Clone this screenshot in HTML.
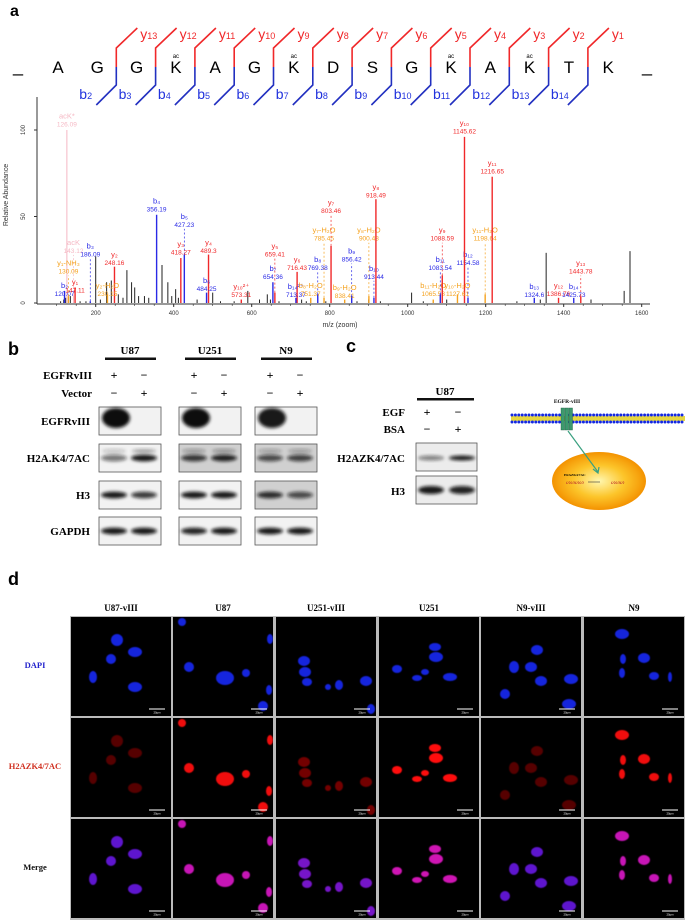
<!DOCTYPE html>
<html><head><meta charset="utf-8">
<style>
html,body{margin:0;padding:0;background:#fff;}
#fig{position:absolute;left:0;top:0;width:685px;height:920px;}
svg text{font-family:"Liberation Sans","DejaVu Sans",sans-serif;}
.serif{font-family:"Liberation Serif","DejaVu Serif",serif!important;font-weight:bold;}
</style></head>
<body>
<svg id="fig" xmlns="http://www.w3.org/2000/svg" width="685" height="920" viewBox="0 0 685 920">
<defs>
<filter id="blur1" x="-50%" y="-50%" width="200%" height="200%"><feGaussianBlur stdDeviation="1.6"/></filter>
<filter id="blur2" x="-50%" y="-50%" width="200%" height="200%"><feGaussianBlur stdDeviation="0.4"/></filter>
<radialGradient id="nucGrad" cx="50%" cy="50%" r="50%">
<stop offset="0" stop-color="#fff7b0"/><stop offset="0.55" stop-color="#fcc52a"/><stop offset="0.85" stop-color="#f7a40f"/><stop offset="1" stop-color="#f39200"/>
</radialGradient>
</defs>
<text x="10" y="16" font-size="16" font-weight="bold">a</text>
<text x="8" y="355" font-size="18" font-weight="bold">b</text>
<text x="346" y="352" font-size="18" font-weight="bold">c</text>
<text x="8" y="585" font-size="18" font-weight="bold">d</text>
<g id="seq"></g>
<g id="spec"></g>
<g id="wb"></g>
<g id="wbc"></g>
<g id="diag"></g>
<g id="micro"></g>
</svg>
<script>
// ---------- data: peptide ----------
const seqLetters = ["A","G","G","K","A","G","K","D","S","G","K","A","K","T","K"];
const seqAc = [0,0,0,1,0,0,1,0,0,0,1,0,1,0,0];
// ---------- data: spectrum ----------
const peakMz  = [126.09,143.12,120.07,130.09,147.11,186.09,248.16,230.15,356.19,427.23,418.27,489.3,484.25,573.31,654.36,659.41,716.43,713.37,769.38,785.45,751.37,803.46,856.42,900.48,913.44,838.41,918.49,1065.53,1083.54,1088.59,1154.58,1145.62,1198.64,1127.61,1216.65,1324.60,1386.76,1425.73,1443.78];
const peakInt = [100,4,7,4,9,1,21,5,51,28,26,28,6,2,12,6,18,3,5,3,3,33,4,4,3,2,60,2,5,16,3,96,5,5,73,3,3,3,4];
const peakType= ["p","p","b","o","r","b","r","o","b","b","r","r","b","r","b","r","r","b","b","o","o","r","b","o","b","o","r","o","b","r","b","r","o","o","r","b","r","b","r"];
const peakName= ["acK*","acK","b₂","y₁-NH₃","y₁","b₃","y₂","y₂-H₂O","b₄","b₅","y₃","y₄","b₆","y₁₀²⁺","b₇","y₅","y₆","b₁₄²⁺","b₈","y₇-H₂O","b₈-H₂O","y₇","b₉","y₈-H₂O","b₁₀","b₉-H₂O","y₈","b₁₁-H₂O","b₁₁","y₉","b₁₂","y₁₀","y₁₁-H₂O","y₁₀-H₂O","y₁₁","b₁₃","y₁₂","b₁₄","y₁₃"];
const labelLevel=[102,29,4,17,6,27,22,4,53,44,28,29,7,3.5,14,27,19,3.5,19,36,4,52,24,36,14,3,61,4,19,36,22,98,36,4,75,3.5,4,3.5,17];
const otherMz  = [110,118,123,135,160,175,200,212,228,240,258,270,280,292,300,310,325,336,370,385,395,405,412,460,500,520,555,590,620,640,648,670,728,740,790,870,900,930,1010,1040,1100,1280,1340,1355,1470,1555,1570];
const otherInt = [1,2,3,4,1,1,27,2,12,13,5,3,19,12,9,4,4,3,22,12,4,8,3,2,6,1,1,7,2,5,2,1,2,1,1,1,2,1,6,1,2,1,2,29,2,7,30];
const xTicks = [200,400,600,800,1000,1200,1400,1600];
const yTicks = [0,50,100];
// ---------- data: western blots ----------
const cellLines = ["U87","U251","N9"];
const blotRows = ["EGFRvIII","H2A.K4/7AC","H3","GAPDH"];
const bandEGFR = [[1,0],[1,0],[0.95,0]];
const bandH2A  = [[0.55,0.95],[0.8,0.9],[0.7,0.75]];
const bandH3   = [[0.95,0.8],[0.95,0.95],[0.85,0.7]];
const bandGAPDH= [[0.95,0.95],[0.9,0.95],[0.95,0.95]];
const bandC_H2AZ=[0.5,0.95];
const bandC_H3 = [0.95,0.9];
// ---------- data: microscopy ----------
const colNames = ["U87-vIII","U87","U251-vIII","U251","N9-vIII","N9"];
const redLevel = [0.3,0.95,0.45,1.0,0.3,0.95];
const nuclei = [
 [[46,23,6,6],[40,42,5,5],[64,35,7,5],[22,60,4,6],[64,70,7,5]],
 [[9,5,4,4],[97,22,3,5],[16,50,5,5],[52,61,9,7],[73,56,4,4],[96,73,3,5],[90,89,5,5]],
 [[28,44,6,5],[29,55,6,5],[31,65,5,4],[63,68,4,5],[90,64,6,5],[95,92,4,5],[52,70,3,3]],
 [[56,30,6,4],[57,40,7,5],[18,52,5,4],[38,61,5,3],[46,55,4,3],[71,60,7,4]],
 [[56,33,6,5],[33,50,5,6],[50,50,6,5],[60,64,6,5],[90,62,7,5],[24,77,5,5],[88,87,7,5]],
 [[38,17,7,5],[39,42,3,5],[60,41,6,5],[38,56,3,5],[70,59,5,4],[86,60,2,5]]
];

const NS="http://www.w3.org/2000/svg";
function mk(parent, tag, attrs, txt){const e=document.createElementNS(NS,tag);for(const k in attrs)e.setAttribute(k,attrs[k]);if(txt!==undefined)e.textContent=txt;parent.appendChild(e);return e;}

// ---------- peptide ----------
const seq=document.getElementById('seq');
const lx=i=>58+i*39.3;
let d1=mk(seq,'text',{x:18,y:72,'font-size':18,'text-anchor':'middle'},'_');


let d2=mk(seq,'text',{x:647,y:72,'font-size':18,'text-anchor':'middle'},'_');


seqLetters.forEach((L,i)=>{
  const t=mk(seq,'text',{x:lx(i),y:73,'font-size':17,'text-anchor':'middle'},L);
  
  
  if(seqAc[i]){const a=mk(seq,'text',{x:lx(i),y:58,'font-size':6,'text-anchor':'middle'},'ac');
    
    }
});
for(let k=2;k<=14;k++){
  const sx=lx(k-1)+19;
  const r=mk(seq,'path',{d:`M${sx},67 V48 L${sx+21},28`,stroke:'#f0282a','stroke-width':1.6,fill:'none'});
  
  
  const b=mk(seq,'path',{d:`M${sx},67 V85 L${sx-20},105`,stroke:'#2230c0','stroke-width':1.6,fill:'none'});
  
  
  const yt=mk(seq,'text',{x:sx+24,y:39,'font-size':14,fill:'#f0282a'});
  yt.innerHTML='y<tspan font-size="9">'+(15-k)+'</tspan>';
  
  
  const bt=mk(seq,'text',{x:sx-37,y:99,'font-size':14,fill:'#2233dd'});
  bt.innerHTML='b<tspan font-size="9">'+k+'</tspan>';
  
  
}

// ---------- spectrum ----------
const sp=document.getElementById('spec');
const xs=m=>95.7+(m-200)*0.39;
const ys=v=>303-v*1.73;
const colors={r:'#f0282a',b:'#2a2ae6',o:'#f5a21f',p:'#f5b8c4',k:'#222'};
let ax=mk(sp,'path',{d:`M37,97 V304 M37,304 H650`,stroke:'#333','stroke-width':1,fill:'none'});


xTicks.forEach(t=>{
  const l=mk(sp,'line',{x1:xs(t),x2:xs(t),y1:304,y2:307,stroke:'#333'});
  
  
  const tx=mk(sp,'text',{x:xs(t),y:315,'font-size':6,'text-anchor':'middle',fill:'#333'},t);
  
  
});
for(let m=100;m<=1600;m+=50){const l=mk(sp,'line',{x1:xs(m),x2:xs(m),y1:304,y2:306,stroke:'#333','stroke-width':0.6});
  
  }
yTicks.forEach(t=>{
  const l=mk(sp,'line',{x1:34,x2:37,y1:ys(t),y2:ys(t),stroke:'#333'});
  
  
  const tx=mk(sp,'text',{x:25,y:ys(t),'font-size':6,'text-anchor':'middle',fill:'#333',transform:`rotate(-90 25 ${ys(t)})`},t);
  
  
});
let yt=mk(sp,'text',{x:8,y:195,'font-size':7,'text-anchor':'middle',fill:'#333',transform:'rotate(-90 8 195)'},'Relative Abundance');


let xt=mk(sp,'text',{x:340,y:327,'font-size':7,'text-anchor':'middle',fill:'#333'},'m/z (zoom)');


otherMz.forEach((m,i)=>{
  const l=mk(sp,'line',{x1:xs(m),x2:xs(m),y1:303,y2:ys(otherInt[i]),stroke:'#222','stroke-width':1});
  
  
});
peakMz.forEach((m,i)=>{
  const c=colors[peakType[i]];
  const l=mk(sp,'line',{x1:xs(m),x2:xs(m),y1:303,y2:ys(peakInt[i]),stroke:c,'stroke-width':peakType[i]=='p'?1:1.4});
  
  
  const ly=ys(labelLevel[i]);
  if(ly<ys(peakInt[i])-14){
    const dl=mk(sp,'line',{x1:xs(m),x2:xs(m),y1:ys(peakInt[i]),y2:ly+2,stroke:c,'stroke-width':0.7,'stroke-dasharray':'2,2'});
    
    
  }
  const tc=peakType[i]=='o'?'#f5a21f':c;
  const n=mk(sp,'text',{x:xs(m),y:ly-8,'font-size':7.5,'text-anchor':'middle',fill:tc},peakName[i]);
  
  
  const ms=mk(sp,'text',{x:xs(m),y:ly,'font-size':6.5,'text-anchor':'middle',fill:tc,'font-family':'Liberation Serif'},m.toFixed(2).replace(/0$/,'').replace(/\.$/,''));
  
  
});

// ---------- western blot b ----------
const wb=document.getElementById('wb');
const grpX=[99,179,255];
const rowY=[407,444,481,517];
const rowData=[bandEGFR,bandH2A,bandH3,bandGAPDH];
cellLines.forEach((c,g)=>{
  const cx=grpX[g]+31;
  const h=mk(wb,'text',{x:cx,y:354,'font-size':11,'text-anchor':'middle',class:'serif'},c);
  
  
  const bar=mk(wb,'rect',{x:cx-25,y:357.5,width:51,height:2.5,fill:'#111'});
  
  
  [['+','−'],['−','+']].forEach((pm,r)=>{pm.forEach((s,j)=>{
    const t=mk(wb,'text',{x:grpX[g]+15+j*30,y:379+r*18,'font-size':12,'text-anchor':'middle',class:'serif'},s);
    
    });});
  rowData.forEach((rd,r)=>{
    const bx=grpX[g], by=rowY[r];
    const bg=(r==1&&g>0)||(r==2&&g==2)?'#d0d0d0':'#f2f2f2';
    const box=mk(wb,'rect',{x:bx,y:by,width:62,height:28,fill:bg,stroke:'#555','stroke-width':0.8});
    
    
    rd[g].forEach((v,j)=>{
      if(v<=0)return;
      const big=r==0;
      const e=mk(wb,'ellipse',{cx:bx+(big?17:15+j*30),cy:by+(big?11:14),rx:big?14:13,ry:big?10:3.4,fill:'#111','fill-opacity':v,filter:'url(#blur1)'});
      
      
      if(r==1){const e2=mk(wb,'ellipse',{cx:bx+15+j*30,cy:by+7,rx:12,ry:2,fill:'#222','fill-opacity':v*0.4,filter:'url(#blur1)'});
        
        }
    });
  });
});
["EGFRvIII","Vector"].forEach((s,r)=>{const t=mk(wb,'text',{x:92,y:379+r*18,'font-size':11,'text-anchor':'end',class:'serif'},s);
  
  });
blotRows.forEach((s,r)=>{const t=mk(wb,'text',{x:90,y:rowY[r]+18,'font-size':11,'text-anchor':'end',class:'serif'},s);
  
  });

// ---------- western blot c ----------
const wc=document.getElementById('wbc');
let hc=mk(wc,'text',{x:445,y:395,'font-size':11,'text-anchor':'middle',class:'serif'},'U87');


let bc=mk(wc,'rect',{x:417,y:398,width:57,height:2.5,fill:'#111'});


[['EGF','+','−'],['BSA','−','+']].forEach((rw,r)=>{
  const t=mk(wc,'text',{x:405,y:416+r*17,'font-size':11,'text-anchor':'end',class:'serif'},rw[0]);
  
  
  [1,2].forEach(j=>{const s=mk(wc,'text',{x:427+(j-1)*31,y:416+r*17,'font-size':12,'text-anchor':'middle',class:'serif'},rw[j]);
    
    });
});
[['H2AZK4/7AC',443,bandC_H2AZ],['H3',476,bandC_H3]].forEach(([lab,by,bd])=>{
  const t=mk(wc,'text',{x:405,y:by+19,'font-size':11,'text-anchor':'end',class:'serif'},lab);
  
  
  const box=mk(wc,'rect',{x:416,y:by,width:61,height:28,fill:'#ececec',stroke:'#555','stroke-width':0.8});
  
  
  bd.forEach((v,j)=>{const e=mk(wc,'ellipse',{cx:431+j*31,cy:by+(lab=='H3'?14:15),rx:13,ry:lab=='H3'?4:2.5,fill:'#111','fill-opacity':v,filter:'url(#blur1)'});
    
    });
});

// ---------- diagram ----------
const dg=document.getElementById('diag');
let el=mk(dg,'text',{x:567,y:403,'font-size':5.5,'text-anchor':'middle',class:'serif'},'EGFR-vIII');


let mb=mk(dg,'rect',{x:511,y:416,width:174,height:5,fill:'#e6d640'});


for(let x=512;x<685;x+=3.4){
  [415,422].forEach(y=>{const c=mk(dg,'circle',{cx:x,cy:y,r:1.5,fill:'#1428e0'});
    
    });
}
[561,565,569].forEach(x=>{const r=mk(dg,'rect',{x:x,y:408,width:3.5,height:22,fill:'#3d9a6e',stroke:'#1e5e40','stroke-width':0.4});
  
  });
let nuc=mk(dg,'ellipse',{cx:599,cy:481,rx:47,ry:29,fill:'url(#nucGrad)'});


let arr=mk(dg,'path',{d:'M568,431 L598,472 M593,469 L598,473 L599,467',stroke:'#3aa080','stroke-width':1.2,fill:'none'});


let nl=mk(dg,'text',{x:564,y:476,'font-size':3.5,class:'serif'},'H2AZK4/7AC');


let dna1=mk(dg,'text',{x:566,y:484,'font-size':5,fill:'#c0392b','font-style':'italic'},'ᔕᔕᔕᔕ');


let ar2=mk(dg,'path',{d:'M588,482 H600',stroke:'#333','stroke-width':0.6});


let dna2=mk(dg,'text',{x:611,y:484,'font-size':5,fill:'#c0392b','font-style':'italic'},'ᔕᔕᔕ');



// ---------- microscopy ----------
const mi=document.getElementById('micro');
const colX=[71,173,276,379,481,584];
const rowYs=[617,718,819];
const rowLabels=[['DAPI','#2222cc'],['H2AZK4/7AC','#d03020'],['Merge','#111']];
let gbg=mk(mi,'rect',{x:70,y:616,width:615,height:304,fill:'#bbb'});


colNames.forEach((c,i)=>{const t=mk(mi,'text',{x:colX[i]+50,y:611,'font-size':9,'text-anchor':'middle',class:'serif'},c);
  
  });
rowLabels.forEach(([l,col],r)=>{const t=mk(mi,'text',{x:35,y:rowYs[r]+51,'font-size':8.5,'text-anchor':'middle',fill:col,class:'serif'},l);
  
  });
colX.forEach((cx,i)=>{rowYs.forEach((ry,r)=>{
  const p=mk(mi,'rect',{x:cx,y:ry,width:100,height:99,fill:'#000'});
  
  
  const clip='clip'+i+'_'+r;
  const cp=mk(document.querySelector('defs'),'clipPath',{id:clip});
  mk(cp,'rect',{x:cx,y:ry,width:100,height:99});
  const g=mk(mi,'g',{'clip-path':`url(#${clip})`});
  const rl=redLevel[i];
  nuclei[i].forEach(n=>{
    let fill;
    if(r==0) fill='rgb(25,40,245)';
    else if(r==1) fill=`rgb(${Math.round(70+185*rl)},${Math.round(10*rl)},${Math.round(10*rl)})`;
    else fill=`rgb(${Math.round(50+180*rl)},20,${Math.round(240-40*rl)})`;
    const e=mk(g,'ellipse',{cx:cx+n[0],cy:ry+n[1],rx:n[2],ry:n[3],fill:fill,'fill-opacity':r==1?0.55+0.45*rl:0.9,filter:'url(#blur2)'});
    
    
  });
  const sb=mk(mi,'line',{x1:cx+78,x2:cx+94,y1:ry+92,y2:ry+92,stroke:'#fff','stroke-width':1});
  
  
  const st=mk(mi,'text',{x:cx+86,y:ry+96.5,'font-size':2.8,'text-anchor':'middle',fill:'#fff'},'20μm');
  
  
});});
</script>
</body></html>
